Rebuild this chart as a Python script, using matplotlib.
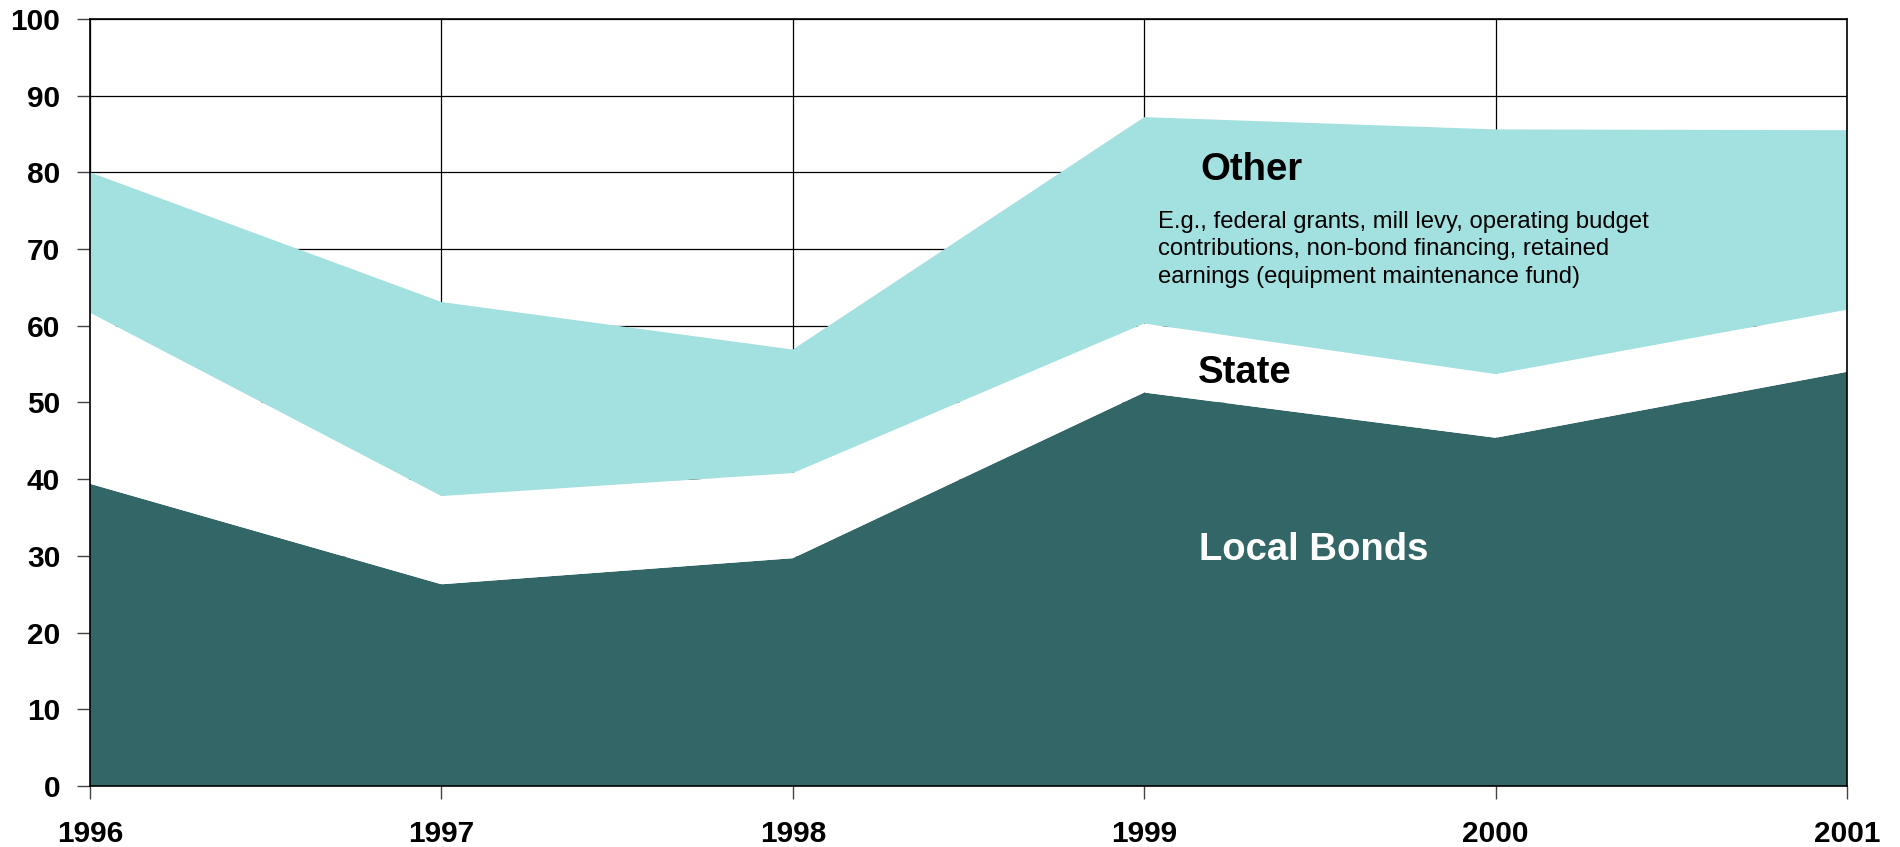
import matplotlib.pyplot as plt
import numpy as np

plt.rcParams['font.family'] = ['Liberation Sans', 'DejaVu Sans']

# Data (percent share of funding by source)
years = [1996, 1997, 1998, 1999, 2000, 2001]
local_bonds = [39.4, 26.3, 29.7, 51.3, 45.4, 54.0]
state = [22.3, 11.5, 11.1, 9.0, 8.3, 8.1]
other = [18.3, 25.3, 16.1, 26.9, 31.9, 23.4]
y_ticks = list(range(0, 101, 10))

dark_teal = '#336666'
light_cyan = '#A3E0E0'

fig = plt.figure(figsize=(19, 8.47), dpi=100)
ax = fig.add_axes([0.0474, 0.0720, 0.9247, 0.9056])

ax.stackplot(years, local_bonds, state, other,
             colors=[dark_teal, 'white', light_cyan], zorder=2, linewidth=0)

ax.set_xlim(years[0], years[-1])
ax.set_ylim(0, 100)
ax.set_xticks(years)
ax.set_yticks(y_ticks)
ax.grid(True, color='black', linewidth=0.9, zorder=0)
ax.set_axisbelow(True)

for s in ax.spines.values():
    s.set_color('black')
    s.set_linewidth(1.2)
    s.set_zorder(3)

ax.tick_params(axis='both', direction='out', length=9.5, width=1, color='#444444',
               labelsize=21.5)
ax.tick_params(axis='x', pad=15)
ax.tick_params(axis='y', pad=12)
for lbl in ax.get_xticklabels() + ax.get_yticklabels():
    lbl.set_fontweight('bold')

# Series labels
ax.text(1999.161, 80.35, 'Other', fontsize=27.5, fontweight='bold', color='black',
        va='center', ha='left', zorder=4)
ax.text(1999.039, 75.0,
        'E.g., federal grants, mill levy, operating budget\n'
        'contributions, non-bond financing, retained\n'
        'earnings (equipment maintenance fund)',
        fontsize=17.2, color='black', va='top', ha='left', linespacing=1.33, zorder=4)
ax.text(1999.152, 53.8, 'State', fontsize=27.5, fontweight='bold', color='black',
        va='center', ha='left', zorder=4)
ax.text(1999.155, 30.77, 'Local Bonds', fontsize=27.5, fontweight='bold', color='white',
        va='center', ha='left', zorder=4)

fig.savefig('out.png', dpi=100)
